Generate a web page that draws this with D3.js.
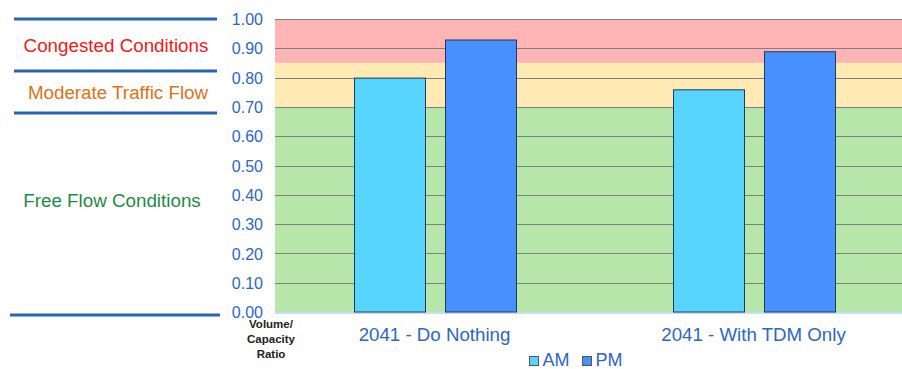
<!DOCTYPE html>
<html>
<head>
<meta charset="utf-8">
<script src="https://cdn.jsdelivr.net/npm/d3@7/dist/d3.min.js"></script>
<style>
body { margin: 0; background: #fff; }
text { font-family: "Liberation Sans", Arial, sans-serif; }
</style>
</head>
<body>
<script>
// chart data
var categories = ["2041 - Do Nothing", "2041 - With TDM Only"];
var series = ["AM", "PM"];
var amValues = [0.80, 0.76];
var pmValues = [0.93, 0.89];
var yTicks = [0, 0.1, 0.2, 0.3, 0.4, 0.5, 0.6, 0.7, 0.8, 0.9, 1.0];
var bandNames = ["Congested Conditions", "Moderate Traffic Flow", "Free Flow Conditions"];
var bandLimits = [[0.85, 1.0], [0.70, 0.85], [0, 0.70]];

var w = 902, h = 369;
var colors = {AM: "#57d5ff", PM: "#4990ff"};
var bandFill = ["#ffb5b5", "#ffeab3", "#b7e6ab"];
var bandText = ["#f21a1a", "#d9731a", "#1f8a46"];
var blue = "#2e66c0";

var svg = d3.select("body").append("svg")
  .attr("width", w)
  .attr("height", h);

var y = d3.scaleLinear().domain([0, 1]).range([312, 19]);

var x = d3.scaleBand()
  .domain(categories)
  .range([275, 913]);

var xs = d3.scaleBand()
  .domain(series)
  .range([79, 79 + 162])
  .paddingInner(20 / 162 * 2 / (1 + 20 / 162));

// background bands
svg.append("g").selectAll("rect")
  .data(bandLimits)
  .join("rect")
  .attr("x", 275)
  .attr("width", 913 - 275)
  .attr("y", d => y(d[1]))
  .attr("height", d => y(d[0]) - y(d[1]))
  .attr("fill", (d, i) => bandFill[i]);

// gridlines
svg.append("g").selectAll("line")
  .data(yTicks.slice(1))
  .join("line")
  .attr("x1", 275).attr("x2", 913)
  .attr("y1", d => Math.round(y(d)) + 0.5)
  .attr("y2", d => Math.round(y(d)) + 0.5)
  .attr("stroke", "#7f7f7f")
  .attr("stroke-width", 1);

// baseline
svg.append("line")
  .attr("x1", 275).attr("x2", 913)
  .attr("y1", y(0) + 1).attr("y2", y(0) + 1)
  .attr("stroke", "#c9dcf3")
  .attr("stroke-width", 2);

// bars
var rows = categories.map((c, i) => ({cat: c, AM: amValues[i], PM: pmValues[i]}));
svg.append("g").selectAll("g")
  .data(rows)
  .join("g")
  .attr("transform", d => `translate(${x(d.cat)},0)`)
  .selectAll("rect")
  .data(d => series.map(k => ({key: k, value: d[k]})))
  .join("rect")
  .attr("x", d => xs(d.key) + 0.5)
  .attr("width", xs.bandwidth())
  .attr("y", d => y(d.value) + 0.5)
  .attr("height", d => y(0) - y(d.value) - 0.5)
  .attr("fill", d => colors[d.key])
  .attr("stroke", "#1e3a5c")
  .attr("stroke-width", 1);

// y axis labels
var yAxis = d3.axisLeft(y)
  .tickValues(yTicks)
  .tickFormat(d3.format(".2f"))
  .tickSize(0)
  .tickPadding(0);
var ya = svg.append("g")
  .attr("transform", "translate(263,0)")
  .call(yAxis);
ya.select(".domain").remove();
ya.selectAll("text")
  .attr("fill", blue)
  .attr("font-size", 16)
  .attr("dy", "0.35em");

// x axis labels
var xAxis = d3.axisBottom(x).tickSize(0).tickPadding(0);
var xa = svg.append("g")
  .attr("transform", "translate(0,340.5)")
  .call(xAxis);
xa.select(".domain").remove();
xa.selectAll("text")
  .attr("fill", blue)
  .attr("font-size", 18.7)
  .attr("dy", 0);

// left region lines
var sepY = [19, 71, 113, 315];
svg.append("g").selectAll("line")
  .data(sepY)
  .join("line")
  .attr("x1", (d, i) => i == 3 ? 10 : 14)
  .attr("x2", (d, i) => i == 3 ? 220 : 217)
  .attr("y1", d => d).attr("y2", d => d)
  .attr("stroke", "#2a62b8")
  .attr("stroke-width", 3);

// region names
var namePos = [[116, 52], [118, 99], [112, 207]];
svg.append("g").selectAll("text")
  .data(bandNames)
  .join("text")
  .attr("x", (d, i) => namePos[i][0])
  .attr("y", (d, i) => namePos[i][1])
  .attr("text-anchor", "middle")
  .attr("font-size", 18.8)
  .attr("fill", (d, i) => bandText[i])
  .text(d => d);

// axis title
svg.append("text")
  .attr("text-anchor", "middle")
  .attr("font-size", 11.5)
  .attr("font-weight", "bold")
  .attr("fill", "#222")
  .selectAll("tspan")
  .data(["Volume/", "Capacity", "Ratio"])
  .join("tspan")
  .attr("x", 271)
  .attr("y", (d, i) => 327.5 + i * 15)
  .text(d => d);

// legend
var legX = [529, 582];
var leg = svg.append("g").selectAll("g")
  .data(series)
  .join("g")
  .attr("transform", (d, i) => `translate(${legX[i]},356)`);
leg.append("rect")
  .attr("x", 0.5).attr("y", 0.5)
  .attr("width", 9).attr("height", 9)
  .attr("fill", d => colors[d])
  .attr("stroke", "#555");
leg.append("text")
  .attr("x", 13.5)
  .attr("y", 9.8)
  .attr("font-size", 18)
  .attr("fill", blue)
  .text(d => d);
</script>
</body>
</html>
